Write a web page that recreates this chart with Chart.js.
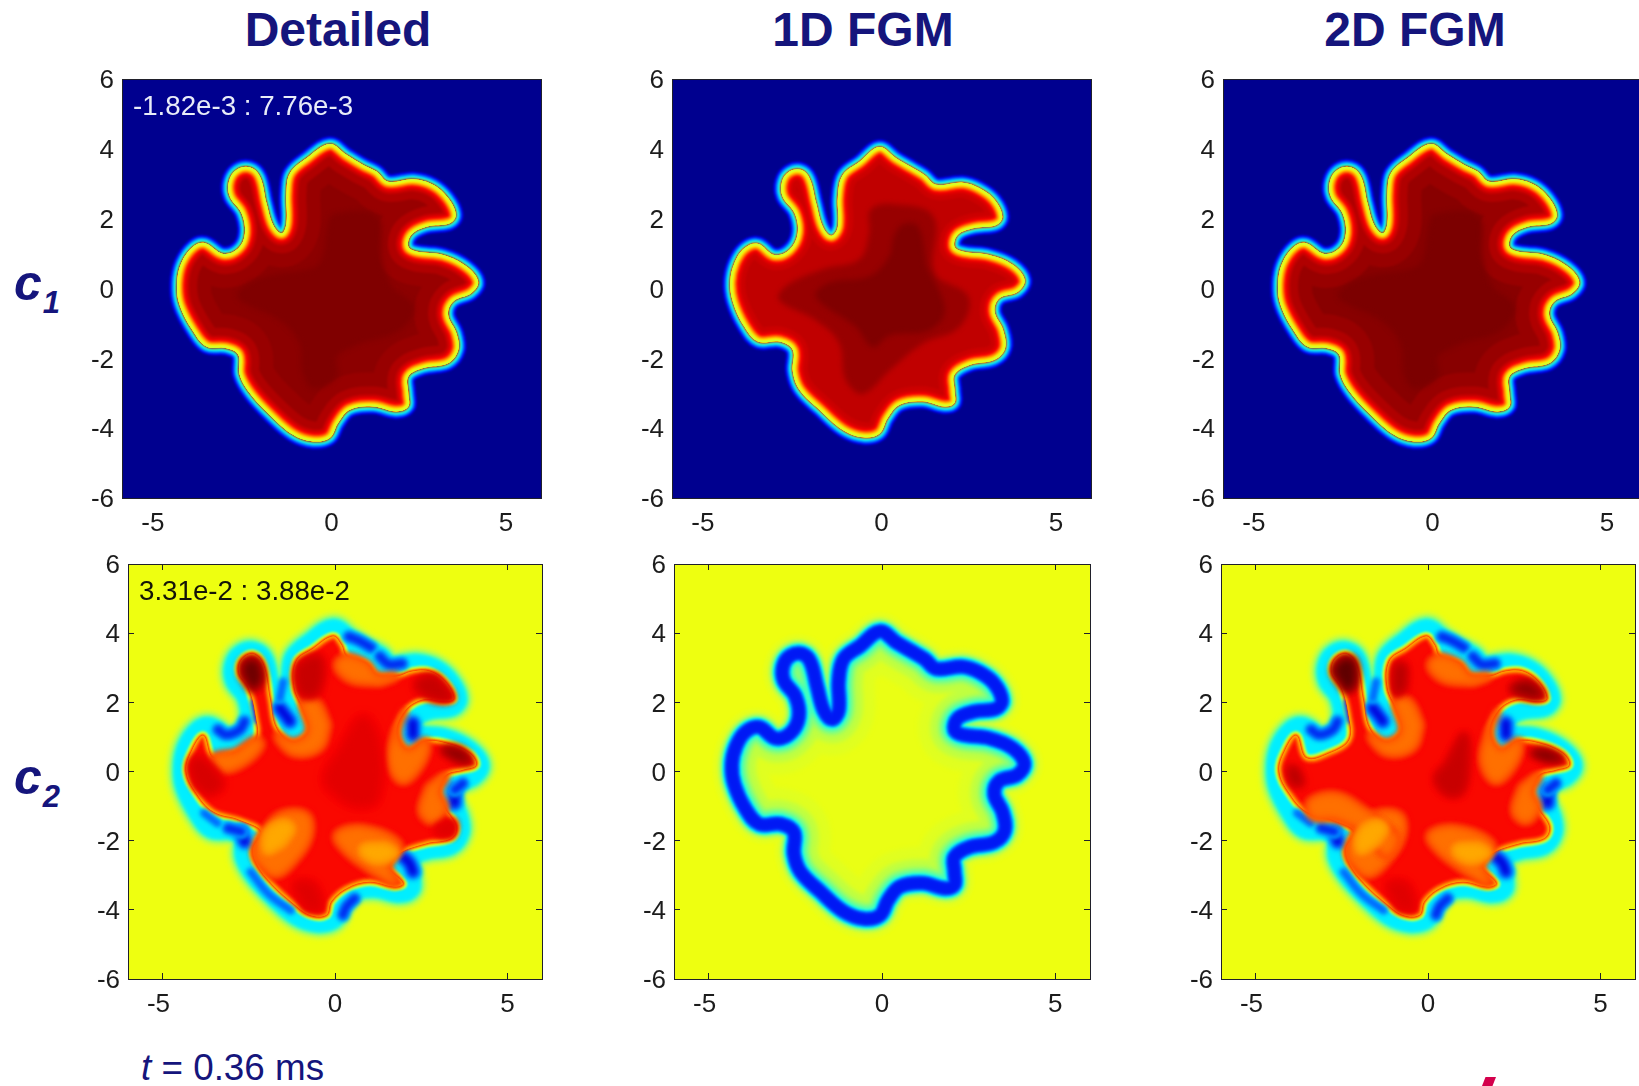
<!DOCTYPE html>
<html><head><meta charset="utf-8">
<script src="https://cdn.jsdelivr.net/npm/chart.js@4/dist/chart.umd.js"></script>
<style>
html,body{margin:0;padding:0;background:#fff;width:1639px;height:1086px;overflow:hidden;font-family:"Liberation Sans",Arial,sans-serif}
canvas{position:absolute}
.t{position:absolute;white-space:pre;line-height:1}
.title{font-weight:bold;font-size:48px;color:#15157c;transform:translateX(-50%)}
.row{font-weight:bold;font-style:italic;font-size:50px;color:#15157c}
.row sub{font-size:31px;vertical-align:baseline;position:relative;top:13px;margin-left:1px}
.note{font-size:27.7px}
</style></head><body>
<script>
// ---- chart text
const columnTitles = ["Detailed", "1D FGM", "2D FGM"];
const rowLabels = ["1", "2"];
const rangeNotes = ["-1.82e-3 : 7.76e-3", "3.31e-2 : 3.88e-2"];
const timeNote = "0.36 ms";
const xTickValues = [-5, 0, 5];
const yTickValues = [-6, -4, -2, 0, 2, 4, 6];

// ---- flame fronts (x, y in mm)
const frontDetailed = [[-0.05,4.14],[0.43,3.83],[0.91,3.54],[1.29,3.35],[1.62,3.06],[2.34,3.13],[2.91,2.97],[3.34,2.59],[3.56,2.11],[3.39,1.87],[2.72,1.77],[2.29,1.54],[2.20,1.20],[2.44,1.06],[3.20,0.96],[3.87,0.63],[4.20,0.20],[4.01,-0.13],[3.49,-0.37],[3.34,-0.75],[3.58,-1.28],[3.63,-1.76],[3.34,-2.14],[2.63,-2.28],[2.20,-2.52],[2.20,-3.00],[2.20,-3.38],[1.86,-3.52],[1.19,-3.38],[0.53,-3.47],[0.19,-3.85],[-0.05,-4.28],[-0.53,-4.38],[-1.10,-4.19],[-1.77,-3.62],[-2.34,-3.00],[-2.63,-2.47],[-2.67,-1.90],[-3.01,-1.71],[-3.58,-1.66],[-3.96,-1.23],[-4.35,-0.47],[-4.42,0.15],[-4.30,0.73],[-3.96,1.20],[-3.63,1.30],[-3.10,0.99],[-2.67,1.15],[-2.48,1.58],[-2.58,2.16],[-2.91,2.63],[-2.94,3.06],[-2.72,3.40],[-2.34,3.47],[-2.05,3.21],[-1.86,2.44],[-1.67,1.82],[-1.43,1.58],[-1.29,1.87],[-1.29,2.73],[-1.19,3.30],[-0.72,3.73],[-0.05,4.14]];
const front1D = [[-0.06,4.05],[0.42,3.73],[0.90,3.45],[1.23,3.25],[1.57,2.97],[2.33,3.03],[2.81,2.87],[3.24,2.54],[3.46,2.06],[3.29,1.82],[2.66,1.73],[2.19,1.54],[2.09,1.20],[2.33,1.06],[3.09,0.96],[3.76,0.68],[4.10,0.25],[3.91,-0.09],[3.38,-0.28],[3.24,-0.66],[3.48,-1.18],[3.54,-1.71],[3.24,-2.04],[2.52,-2.19],[2.09,-2.47],[2.09,-2.90],[2.09,-3.28],[1.81,-3.38],[1.18,-3.23],[0.52,-3.33],[0.18,-3.71],[-0.06,-4.16],[-0.53,-4.26],[-1.11,-4.05],[-1.78,-3.47],[-2.35,-2.90],[-2.54,-2.38],[-2.54,-1.76],[-2.92,-1.52],[-3.54,-1.52],[-3.93,-1.09],[-4.26,-0.37],[-4.33,0.20],[-4.21,0.73],[-3.93,1.15],[-3.54,1.28],[-3.07,0.96],[-2.64,1.11],[-2.40,1.58],[-2.49,2.16],[-2.83,2.63],[-2.85,3.06],[-2.64,3.35],[-2.30,3.40],[-2.06,3.16],[-1.87,2.44],[-1.68,1.77],[-1.44,1.51],[-1.25,1.77],[-1.25,2.63],[-1.11,3.25],[-0.63,3.63],[-0.06,4.05]];

// ---- c1 core contours
const c1CoreDetailed = [[0.05,2.11],[1.29,2.06],[1.43,0.82],[1.72,0.06],[2.34,-0.52],[1.96,-1.18],[0.81,-1.56],[0.14,-1.95],[0.14,-2.52],[-0.53,-2.85],[-0.81,-2.42],[-0.91,-1.56],[-1.48,-0.90],[-2.63,-0.32],[-2.63,-0.04],[-1.86,0.34],[-0.53,0.58],[-0.24,0.92],[-0.10,1.77],[0.05,2.11]];
const c1Level1D = [[-0.30,2.25],[0.32,2.40],[1.47,2.06],[1.52,0.44],[2.47,-0.23],[2.23,-1.09],[1.18,-1.56],[0.23,-2.33],[-0.53,-3.0],[-1.01,-2.61],[-1.20,-1.56],[-1.87,-0.90],[-2.92,-0.32],[-2.73,0.06],[-1.68,0.53],[-0.63,0.82],[-0.34,1.58],[-0.30,2.25]];
const c1Core1D = [[0.61,1.82],[1.04,1.77],[1.28,0.63],[1.80,-0.61],[1.37,-1.18],[0.23,-1.33],[-0.25,-1.66],[-0.73,-1.09],[-1.87,-0.23],[-1.49,0.15],[-0.34,0.34],[0.23,0.92],[0.37,1.49],[0.61,1.82]];

// ---- c2 reacting body outline
const c2Body = [[-0.06,3.91],[0.18,3.67],[0.33,3.33],[0.91,3.09],[1.20,2.75],[1.78,2.75],[2.26,2.90],[2.74,2.90],[3.18,2.61],[3.44,2.12],[3.22,2.03],[2.55,2.08],[2.02,1.74],[1.78,1.06],[2.11,0.58],[2.64,0.87],[3.22,0.82],[3.90,0.53],[4.09,0.19],[3.71,0.05],[3.22,-0.10],[2.98,-0.58],[3.18,-1.06],[3.51,-1.59],[3.37,-1.93],[2.64,-2.08],[1.87,-2.36],[1.53,-2.75],[1.97,-3.23],[1.73,-3.33],[1.0,-3.19],[0.33,-3.38],[-0.11,-3.76],[-0.25,-4.15],[-0.73,-4.15],[-1.22,-3.81],[-1.89,-3.19],[-2.28,-2.65],[-2.37,-2.22],[-2.13,-1.74],[-2.76,-1.40],[-3.53,-1.16],[-4.02,-0.63],[-4.31,0],[-4.16,0.58],[-3.82,1.04],[-3.53,0.39],[-2.86,0.53],[-2.28,0.92],[-2.30,1.64],[-2.50,2.41],[-2.78,2.85],[-2.71,3.23],[-2.37,3.40],[-2.08,3.09],[-1.89,2.12],[-1.70,1.25],[-1.22,0.82],[-0.73,1.16],[-0.88,1.74],[-1.17,2.41],[-1.12,3.19],[-0.64,3.55],[-0.06,3.91]];

// ---- c2 blue streaks along the ring
const streaksMain = [
 [[-1.60,1.83],[-1.41,1.59],[-1.31,1.45]],
 [[2.26,1.40],[2.26,1.06]],
 [[3.47,-0.53],[3.47,-0.92]],
 [[2.02,-2.51],[2.16,-2.65],[2.26,-2.90]],
 [[-2.71,-1.74],[-2.62,-2.03]]
];
const streaksMedium = [
 [[3.71,-0.34],[3.47,-0.53]],
 [[-3.10,-1.64],[-2.71,-1.74]],
 [[0.23,-4.15],[0.33,-3.91],[0.57,-3.67]],
 [[-3.39,1.21],[-3.15,1.06],[-2.76,1.21],[-2.62,1.45]],
 [[0.40,3.90],[0.70,3.78],[1.05,3.58]],
 [[1.30,3.33],[1.55,3.10],[1.95,3.12]]
];
const streaksThin = [
 [[-2.45,-2.90],[-1.92,-3.55],[-1.28,-4.02]],
 [[-3.80,-1.20],[-3.40,-1.50]],
 [[-2.33,2.00],[-2.25,1.50]],
 [[-1.50,2.60],[-1.60,2.10]]
];

// ---- c2 warm zones (orange) and inner light cores
const warmLowerLeft = [[-2.13,-1.83],[-1.60,-1.25],[-0.83,-1.25],[-0.73,-1.83],[-1.12,-2.51],[-1.70,-2.99],[-2.13,-2.70],[-2.33,-2.32],[-2.13,-1.83]];
const warmLowerLeftCore = [[-1.99,-1.74],[-1.50,-1.45],[-1.22,-1.64],[-1.50,-2.12],[-1.99,-2.32],[-1.99,-1.74]];
const warmLowerRight = [[0.04,-1.83],[0.81,-1.64],[1.87,-2.12],[1.53,-2.75],[1.78,-3.23],[1.10,-2.90],[0.33,-2.32],[0.04,-1.83]];
const warmLowerRightCore = [[0.81,-2.17],[1.49,-2.12],[1.78,-2.36],[1.29,-2.61],[0.81,-2.41],[0.81,-2.17]];
const warmFold = [[-1.70,1.06],[-1.22,0.53],[-0.44,0.68],[-0.20,1.35],[-0.54,2.03],[-0.93,2.03],[-0.73,1.16],[-1.22,0.82],[-1.70,1.06]];
const warmNotch = [[2.02,1.74],[1.74,1.16],[1.58,0.29],[1.97,-0.29],[2.55,0.29],[2.64,0.87],[2.11,0.58],[1.78,1.06],[2.02,1.74]];
const warmTop = [[0.28,3.30],[0.91,3.09],[1.20,2.75],[1.78,2.75],[1.29,2.55],[0.45,2.65],[0.05,3.05],[0.28,3.30]];
const warmRight = [[3.22,-0.10],[2.98,-0.58],[3.18,-1.06],[2.84,-1.45],[2.50,-1.16],[2.70,-0.45],[3.22,-0.10]];
const warmLeft = [[-3.53,0.39],[-2.86,0.53],[-2.28,0.92],[-2.13,0.77],[-2.57,0.29],[-3.24,0.05],[-3.53,0.39]];
const warmBand2D = [[-3.43,-0.87],[-2.65,-0.68],[-1.79,-1.16],[-1.30,-1.54],[-0.92,-1.93],[-1.22,-2.41],[-1.69,-1.83],[-2.65,-1.35],[-3.33,-1.30],[-3.43,-0.87]];

// ---- c2 hot zones, detailed
const hotFinger = [[-2.62,3.14],[-2.28,3.19],[-2.14,2.70],[-2.37,2.41],[-2.66,2.80],[-2.62,3.14]];
const hotShoulder = [[-1.03,3.09],[-0.44,3.28],[-0.49,2.32],[-0.93,2.22],[-1.12,2.70],[-1.03,3.09]];
const hotArm = [[2.36,2.51],[2.84,2.75],[3.22,2.41],[3.37,2.12],[2.84,2.12],[2.36,2.51]];
const hotTip = [[3.13,0.63],[3.61,0.63],[3.90,0.29],[3.51,0.34],[3.13,0.63]];
const hotLeft = [[-4.17,0.19],[-3.92,0.39],[-3.29,-0.34],[-3.63,-0.63],[-4.02,-0.39],[-4.17,0.19]];
const hotCentre = [[0.14,0.58],[0.81,1.54],[1.25,0.77],[1.20,-0.77],[0.62,-0.97],[-0.15,-0.48],[-0.25,-0.10],[0.14,0.58]];
const hotRight = [[2.93,-1.64],[3.44,-1.45],[3.39,-1.83],[3.03,-1.83],[2.93,-1.64]];
const hotBottom = [[-1.12,-3.28],[-0.64,-3.28],[-0.44,-3.96],[-0.83,-3.96],[-1.12,-3.28]];

// ---- c2 hot zones, 2D FGM
const hot2Finger = [[-2.70,2.94],[-2.46,3.23],[-2.17,3.19],[-2.12,2.61],[-2.32,2.37],[-2.61,2.70],[-2.70,2.94]];
const hot2Shoulder = [[-0.92,3.04],[-0.68,3.04],[-0.68,2.41],[-0.92,2.27],[-0.92,3.04]];
const hot2Arm = [[2.46,2.41],[2.90,2.56],[3.28,2.22],[3.04,2.17],[2.65,2.27],[2.46,2.41]];
const hot2Tip = [[3.04,0.53],[3.43,0.58],[3.86,0.34],[3.43,0.34],[3.04,0.53]];
const hot2Left = [[-4.0,0.1],[-3.8,0.05],[-3.67,-0.34],[-3.91,-0.34],[-4.0,0.1]];
const hot2Centre = [[1.06,1.06],[1.11,-0.10],[0.92,-0.63],[0.53,-0.63],[0.24,-0.19],[0.53,0.19],[1.06,1.06]];

// ---- styling
const NAVY='#00008f', YELLOW='#eeff10';
const frameColor='#20202a', tickFont={family:'"Liberation Sans",Arial,sans-serif',size:26};
const GUT_L=60, GUT_T=16, GUT_B=46, GUT_R=6;

function seamless(a){
  const f=a[0],l=a[a.length-1];
  if(f[0]!==l[0]||f[1]!==l[1]||a.length<5)return a;
  const n=a.length-1;let best=0,bv=1e9;
  for(let i=0;i<n;i++){
    const p=a[(i+n-1)%n],q=a[i],r=a[(i+1)%n];
    let d=Math.atan2(r[1]-q[1],r[0]-q[0])-Math.atan2(q[1]-p[1],q[0]-p[0]);
    d=Math.abs(Math.atan2(Math.sin(d),Math.cos(d)));
    if(d<bv){bv=d;best=i;}
  }
  const o=[];for(let i=0;i<=n;i++)o.push(a[(best+i)%n]);
  return o;
}
function pts(a){return seamless(a).map(p=>({x:p[0],y:p[1]}));}
function layer(a,opt){return Object.assign({data:pts(a),showLine:true,pointRadius:0,tension:0.38,borderColor:'transparent',borderWidth:0,fill:false,borderJoinStyle:'round',borderCapStyle:'round',backgroundColor:'transparent'},opt);}
function halo(a,list,blur){
  return list.map(([o,c])=>layer(a,{borderWidth:o*2,borderColor:c,backgroundColor:c,fill:'shape',blur}));
}
function solid(a,c,blur){return layer(a,{fill:'shape',backgroundColor:c,borderColor:c,borderWidth:1,blur});}
function inner(ref,a,list,blur){
  return list.map(([o,c])=>layer(a,{borderWidth:o*2,borderColor:c,clipTo:ref,blur}));
}
function patch(a,list,c,blur){
  return list.map(([w,k])=>layer(a,{borderWidth:w,borderColor:k,backgroundColor:k,fill:'shape',blur})).concat([solid(a,c,blur)]);
}
function streak(a,list,blur){return list.map(([w,k])=>layer(a,{borderWidth:w,borderColor:k,blur}));}

const c1Outer=[[8,'#0000b8'],[7,'#0000f0'],[6,'#0030ff'],[5,'#0070ff'],[4,'#00b0ff'],[3,'#00e8ff'],[2,'#30ffd0'],[1.1,'#70ff90']];
const c1Inner=[[34,'#980000'],[20,'#b00000'],[12,'#cc0000'],[9.5,'#e80000'],[7.8,'#ff0000'],[6.4,'#ff5000'],[5,'#ff9000'],[3.8,'#ffc800'],[2.6,'#ffff00'],[1.4,'#c0ff40']];
const c1Inner1D=[[15,'#cc0000'],[10.5,'#e00000'],[8,'#ff0000'],[6.4,'#ff5000'],[5,'#ff9000'],[3.8,'#ffc800'],[2.6,'#ffff00'],[1.4,'#c0ff40']];

function c1Panel(front,levels,innerBands,base){
  let ds=halo(front,c1Outer,0.9);
  ds.push(solid(front,base,0.9));
  const ref=ds.length-1;
  ds=ds.concat(inner(ref,front,innerBands,0.9));
  levels.forEach(([a,c])=>ds.push(solid(a,c,2.5)));
  return ds;
}
const ringOuter=[[18,'#e6ff1e'],[16,'#d4ff30'],[14,'#b4ff50'],[12,'#88ff78'],[10.5,'#50ffb0'],[9,'#18f4e8'],[7.5,'#00eeff']];
const bodyOuter=[[5,'#40ffc0'],[4,'#90ff70'],[3,'#d8ff28'],[2,'#ffe000'],[1,'#ffa000']];
const bodyInner=[[5,'#ff2000'],[3.5,'#ff4800'],[2,'#ff8000'],[1,'#ffb000']];
const warmBands=[[6,'#ff3000'],[3,'#ff5000']];
const warmFill='#ff7000', warmCoreFill='#ffa800';
function hot(a,c,w,k){return patch(a,[[w,k]],c,3.5);}

function c2Panel(warm,warmCores,hots){
  let ds=halo(frontDetailed,ringOuter,1.8);
  ds=ds.concat(halo(c2Body,bodyOuter,1.1));
  streaksMain.forEach(s=>{ds=ds.concat(streak(s,[[18,'#00c8ff'],[14,'#0090ff'],[11,'#0040ff'],[6,'#0000d8']],2.5));});
  streaksMedium.forEach(s=>{ds=ds.concat(streak(s,[[14,'#00b8ff'],[10,'#0070ff'],[6,'#0028f0']],2.2));});
  streaksThin.forEach(s=>{ds=ds.concat(streak(s,[[9,'#00a8ff'],[5,'#0060ff']],2));});
  ds.push(solid(c2Body,'#fa0800',1.1));
  const ref=ds.length-1;
  ds=ds.concat(inner(ref,c2Body,bodyInner,1.1));
  warm.forEach(a=>{ds=ds.concat(patch(a,warmBands,warmFill,3.5));});
  warmCores.forEach(a=>{ds=ds.concat(patch(a,[[5,'#ff9000']],warmCoreFill,3));});
  hots.forEach(h=>{ds=ds.concat(hot(...h));});
  return ds;
}
function ringPanel(front){
  let ds=[];
  const stroke=([o,c])=>layer(front,{borderWidth:o*2,borderColor:c,blur:1.2});
  ds=ds.concat([[19,'#e6ff1c'],[14.5,'#c8ff40'],[12,'#90ff70']].map(stroke));
  ds.push(solid(front,'#eaff14',1));
  const ref=ds.length-1;
  ds=ds.concat(inner(ref,front,[[36,'#e0ff20'],[24,'#c0ff40'],[16,'#90ff70'],[12,'#40ffc0']],2));
  ds=ds.concat([[10,'#40ffc0'],[8.8,'#00e8ff'],[7.8,'#00a8ff'],[6.8,'#0060ff'],[5.6,'#0020f8'],[3.5,'#0018f4']].map(stroke));
  return ds;
}

const panels=[
 {l:122.3,t:79,w:419,h:419,bg:NAVY,ticks:false,ds:c1Panel(frontDetailed,[[c1CoreDetailed,'#800000']],c1Inner,'#8c0000')},
 {l:672.3,t:79,w:419.4,h:419,bg:NAVY,ticks:false,ds:c1Panel(front1D,[[c1Level1D,'#980000'],[c1Core1D,'#800000']],c1Inner1D,'#c00000')},
 {l:1222.7,t:79,w:419,h:419,bg:NAVY,ticks:false,ds:c1Panel(frontDetailed,[[c1CoreDetailed,'#7c0000']],c1Inner,'#880000')},
 {l:128.3,t:564,w:414.4,h:415,bg:YELLOW,ticks:true,ds:c2Panel(
   [warmLowerLeft,warmLowerRight,warmFold,warmNotch,warmTop,warmRight,warmLeft],
   [warmLowerLeftCore,warmLowerRightCore],
   [[hotCentre,'#e40000',10,'#f40000'],[hotShoulder,'#c80000',8,'#e80000'],[hotArm,'#c80000',8,'#e80000'],[hotTip,'#900000',8,'#d00000'],[hotLeft,'#d80000',8,'#f00000'],[hotRight,'#e00000',6,'#f00000'],[hotBottom,'#e00000',8,'#f00000'],[hotFinger,'#700000',10,'#c80000']])},
 {l:674.3,t:564,w:415.7,h:415,bg:YELLOW,ticks:true,ds:ringPanel(front1D)},
 {l:1221,t:564,w:414.3,h:415,bg:YELLOW,ticks:true,ds:c2Panel(
   [warmLowerLeft,warmLowerRight,warmFold,warmNotch,warmTop,warmRight,warmBand2D],
   [warmLowerLeftCore,warmLowerRightCore],
   [[hot2Centre,'#c80000',6,'#e00000'],[hot2Shoulder,'#b80000',8,'#e00000'],[hot2Arm,'#900000',10,'#d00000'],[hot2Tip,'#800000',8,'#c80000'],[hot2Left,'#b80000',8,'#e00000'],[hot2Finger,'#600000',10,'#b80000'],[hotBottom,'#e00000',8,'#f00000']])}
];

function setBlur(chart,i){
  const d=chart.data.datasets[i];
  chart.ctx.filter=(d&&d.blur)?'blur('+d.blur+'px)':'none';
}
const clipPlugin={id:'clipTo',
 beforeDatasetsDraw(chart){setBlur(chart,0);},
 beforeDatasetDraw(chart,args){const d=chart.data.datasets[args.index];
   if(d.clipTo===undefined)return;
   const c=chart.ctx;c.save();c.beginPath();chart.getDatasetMeta(d.clipTo).dataset.path(c);c.clip();},
 afterDatasetDraw(chart,args){const d=chart.data.datasets[args.index];
   if(d.clipTo!==undefined)chart.ctx.restore();
   setBlur(chart,args.index+1);},
 afterDatasetsDraw(chart){chart.ctx.filter='none';}
};
const bgPlugin={id:'panelBg',beforeDatasetsDraw(chart,a,o){const {left,top,width,height}=chart.chartArea;const c=chart.ctx;c.save();c.filter='none';c.fillStyle=o.color;c.fillRect(left,top,width,height);c.restore();}};

// the reference centres "-5" a little left of its tick
function nudgeNegativeLabel(s){
  if(s._nudged)return; s._nudged=true;
  const orig=s._computeLabelItems;
  s._computeLabelItems=function(ca){
    const items=orig.call(this,ca);
    items.forEach(it=>{if(String(it.label).startsWith('-'))it.options.translation[0]-=4;});
    return items;
  };
}

function mk(p){
  const cv=document.createElement('canvas');
  const W=Math.round(p.w+GUT_L+GUT_R),H=Math.round(p.h+GUT_T+GUT_B);
  cv.width=W;cv.height=H;cv.style.left=(p.l-GUT_L)+'px';cv.style.top=(p.t-GUT_T)+'px';
  document.body.appendChild(cv);
  p.ds.forEach((d,i)=>{d.order=p.ds.length-i;});
  const tl=p.ticks?-6:0;
  const grid={drawOnChartArea:false,drawTicks:p.ticks,tickLength:tl,color:frameColor,lineWidth:1,z:2};
  const border={display:true,color:frameColor,width:1,z:3};
  const labels=(arr)=>function(s){s.ticks=arr.map(v=>({value:v}));};
  const hidden={display:false};
  new Chart(cv,{type:'scatter',data:{datasets:p.ds},plugins:[bgPlugin,clipPlugin],options:{
    responsive:false,animation:false,events:[],
    layout:{padding:{top:GUT_T,right:GUT_R,left:0,bottom:0}},
    plugins:{legend:{display:false},tooltip:{enabled:false},title:{display:false},panelBg:{color:p.bg}},
    scales:{
      x:{type:'linear',position:'bottom',min:-6,max:6,afterBuildTicks:labels(xTickValues),afterFit(s){s.height=GUT_B;s.paddingLeft=0;s.paddingRight=0;nudgeNegativeLabel(s);},grid,border,
         ticks:{font:tickFont,color:'#1c1c1c',padding:10-tl,maxRotation:0,autoSkip:false,callback:v=>String(v)}},
      y:{type:'linear',position:'left',min:-6,max:6,afterBuildTicks:labels(yTickValues),afterFit(s){s.width=GUT_L;s.paddingTop=0;s.paddingBottom=0;},grid,border,
         ticks:{font:tickFont,color:'#1c1c1c',padding:8-tl,labelOffset:2,autoSkip:false,callback:v=>String(v)}},
      xTop:{type:'linear',position:'top',min:-6,max:6,afterBuildTicks:labels(xTickValues),afterFit(s){s.height=0;},grid,border,ticks:hidden},
      yRight:{type:'linear',position:'right',min:-6,max:6,afterBuildTicks:labels(yTickValues),afterFit(s){s.width=0;},grid,border,ticks:hidden}
    }}});
}
panels.forEach(mk);

function txt(cls,html,l,top,color){const d=document.createElement('div');d.className='t '+cls;d.innerHTML=html;d.style.left=l+'px';d.style.top=top+'px';if(color)d.style.color=color;document.body.appendChild(d);return d;}
[338,863,1415].forEach((x,i)=>txt('title',columnTitles[i],x,6));
txt('row','c<sub>'+rowLabels[0]+'</sub>',14,258);
txt('row','c<sub>'+rowLabels[1]+'</sub>',14,752);
txt('note',rangeNotes[0],133,92,'#e8ecf8');
txt('note',rangeNotes[1],139,577,'#141408');
const tn=txt('','<i>t</i> = '+timeNote,141,1050,'#15157c');tn.style.fontSize='36.8px';
const mark=document.createElement('div');
mark.style.cssText='position:absolute;left:1482px;top:1077px;width:14px;height:9px;background:#d4004c;clip-path:polygon(25% 0,100% 0,75% 100%,0 100%)';
document.body.appendChild(mark);
</script>
</body></html>
